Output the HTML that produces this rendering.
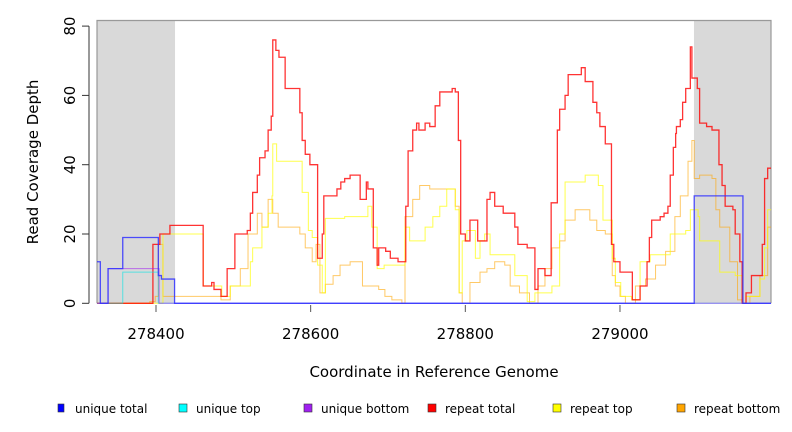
<!DOCTYPE html>
<html><head><meta charset="utf-8"><style>
body{margin:0;background:#fff;}
svg{display:block;font-family:"DejaVu Sans","Liberation Sans",sans-serif;}
</style></head><body>
<svg id="chart" width="792" height="432" viewBox="0 0 792 432">
<rect x="0" y="0" width="792" height="432" fill="#fff"/>
<g id="plot"></g>
<g id="axes"></g>
<text x="38" y="162" transform="rotate(-90 38 162)" text-anchor="middle" font-size="15" fill="#000">Read Coverage Depth</text>
<text x="434" y="377" text-anchor="middle" font-size="15" fill="#000">Coordinate in Reference Genome</text>
<g id="legend"></g>
</svg>
<script>
const xMin = 278323.7, xMax = 279195.3;
const yTicks = [0, 20, 40, 60, 80];
const xTicks = [278400, 278600, 278800, 279000];
const greyRegions = [[278323.7, 278424.6], [279095.7, 279195.3]];

const uniqueTotalPos = [278320, 278328, 278338, 278357, 278403, 278407, 278424, 279096, 279159, 279196];
const uniqueTotalVal = [12, 0, 10, 19, 8, 7, 0, 31, 0, 0];
const uniqueTopPos = [278320, 278357, 278403, 279196];
const uniqueTopVal = [0, 9, 0, 0];
const uniqueBottomPos = [278320, 278338, 278404, 279196];
const uniqueBottomVal = [0, 10, 0, 0];

const repeatTotalPos = [278320,278396,278405,278418,278461,278472,278475,278484,278492,278502,278518,278522,278525,278531,278534,278541,278545,278549,278551,278555,278559,278567,278586,278589,278593,278599,278609,278615,278617,278634,278639,278644,278651,278664,278672,278674,278681,278686,278688,278697,278703,278713,278723,278726,278732,278737,278740,278748,278754,278761,278767,278783,278787,278791,278794,278800,278806,278816,278828,278832,278838,278849,278864,278868,278880,278890,278894,278903,278911,278919,278922,278929,278933,278950,278955,278965,278970,278974,278981,278989,278992,279000,279016,279026,279035,279038,279041,279052,279057,279062,279065,279069,279072,279073,279078,279081,279085,279091,279093,279100,279103,279112,279119,279128,279132,279136,279146,279149,279155,279158,279163,279170,279184,279187,279191];
const repeatTotalVal = [0,17,20,22.5,5,6,4,2,10,20,21,26,32,37,42,44,50,54,76,73,71,62,55,47,43,40,13,20,31,33,35,36,37,30,35,33,16,11,16,15,13,12,28,44,50,52,50,52,51,57,61,62,61,47,20,18,24,18,30,32,28,26,22,17,16,4,10,8,29,50,56,60,66,68,64,58,55,51,46,17,12,9,1,5,12,19,24,25,26,28,37,45,49,51,53,58,62,74,65,62,52,51,50,40,34,28,27,20,12,0,3,8,17,36,39];

const repeatTopPos = [278320,278409,278461,278485,278496,278522,278525,278537,278545,278550,278551,278556,278589,278597,278602,278609,278615,278619,278644,278674,278679,278686,278695,278722,278728,278748,278758,278767,278776,278787,278792,278796,278802,278813,278819,278825,278832,278864,278880,278890,278912,278922,278929,278955,278972,278978,278990,278994,279001,279015,279026,279039,279065,279085,279091,279101,279103,279129,279149,279158,279163,279181,279187,279191];
const repeatTopVal = [0,20,5,2,5,12,16,22,26,31,46,41,32,21,19,11,3,24.5,25,28,22,10,11,22,18,22,25,28,33,27,3,18,21,13,18,20,14,8,0.5,3,5,20,35,37,34,24,13,6,2,1,12,14,20,21,27,25,18,9,8,0,2,7,16,27];

const repeatBottomPos = [278320,278392,278399,278403,278409,278484,278496,278509,278519,278531,278537,278545,278551,278558,278586,278593,278602,278607,278612,278619,278629,278638,278651,278667,278688,278696,278705,278718,278722,278732,278741,278754,278787,278792,278796,278806,278819,278828,278838,278851,278858,278870,278883,278894,278903,278912,278922,278929,278942,278961,278970,278981,278990,278994,279000,279007,279020,279033,279046,279059,279071,279078,279088,279093,279096,279103,279119,279124,279129,279142,279152,279158,279168,279181,279191];
const repeatBottomVal = [0,0.5,2,17,2,1,5,10,20,26,22,30,26,22,20,16,12,17,3,5.5,8,11,12,5,4,2,1,0,25,30,34,33,28,3,0,6,9,10,12,11,5,3,0,5,10,16,18,24,27,24,21,20,8,5,2,0,5,7,11,15,25,31,41,47,36,37,36,27,22,12,1,0,2,8,22];

const L=97, R=771, T=20.5, B=303.3;
const xs = c => L + (c - xMin) / (xMax - xMin) * (R - L);
const ys = v => B - v * 3.465;
const NS = 'http://www.w3.org/2000/svg';
function mk(tag, attrs, parent){const e=document.createElementNS(NS,tag);for(const k in attrs)e.setAttribute(k,attrs[k]);parent.appendChild(e);return e;}
const plot=document.getElementById('plot'), axes=document.getElementById('axes'), legend=document.getElementById('legend');

greyRegions.forEach(g=>{
  const r=mk('rect',{x:xs(g[0]),y:T,width:xs(g[1])-xs(g[0]),height:B-T,fill:'#d9d9d9'},plot);
  
  
});
const frame=mk('path',{d:`M${L},${B} V${T} H${R} V${B}`,fill:'none',stroke:'#999',"stroke-width":1.2},plot);



function stepPath(pos,val){
  const cl=c=>Math.max(xMin,Math.min(xMax,c));
  let d=`M${xs(cl(pos[0]))},${ys(val[0])}`;
  for(let i=1;i<pos.length;i++){d+=` H${xs(cl(pos[i]))} V${ys(val[i])}`;}
  d+=` H${R}`;
  return d;
}
const series=[
  ['repeat-bottom-line',repeatBottomPos,repeatBottomVal,'#ffa500',1,0.6],
  ['repeat-top-line',repeatTopPos,repeatTopVal,'#ffff00',1,0.7],
  ['repeat-total-line',repeatTotalPos,repeatTotalVal,'#ff0000',1.3,0.8],
  ['unique-top-line',uniqueTopPos,uniqueTopVal,'#00e5e5',1,0.6],
  ['unique-bottom-line',uniqueBottomPos,uniqueBottomVal,'#a020f0',1,0.6],
  ['unique-total-line',uniqueTotalPos,uniqueTotalVal,'#3030ff',1.3,0.85]
];
series.forEach(s=>{
  const p=mk('path',{d:stepPath(s[1],s[2]),fill:'none',stroke:s[3],"stroke-width":s[4],"stroke-opacity":s[5]},plot);
  
  
});

const yl=mk('line',{x1:89,x2:89,y1:ys(80),y2:ys(0),stroke:'#333'},axes);


yTicks.forEach(t=>{
  const y=ys(t);
  const tk=mk('line',{x1:82,x2:89,y1:y,y2:y,stroke:'#333'},axes);
  
  
  const tx=mk('text',{x:75,y:y,transform:`rotate(-90 75 ${y})`,"text-anchor":"middle","font-size":15},axes);
  tx.textContent=t;
  
  
});
xTicks.forEach(t=>{
  const x=xs(t);
  const tk=mk('line',{x1:x,x2:x,y1:305,y2:312,stroke:'#555'},axes);
  
  
  const tx=mk('text',{x:x,y:339,"text-anchor":"middle","font-size":15},axes);
  tx.textContent=t;
  
  
});

const legendLabels=['unique total','unique top','unique bottom','repeat total','repeat top','repeat bottom'];
const legendColors=['#0000ff','#00ffff','#a020f0','#ff0000','#ffff00','#ffa500'];
const legendX=[58,179,304,428,553,677];
legendLabels.forEach((lab,i)=>{
  const g=mk('g',{},legend);
  
  
  const w=i===0?6:8;
  mk('rect',{x:legendX[i],y:404,width:w,height:8,fill:legendColors[i],stroke:'#333',"stroke-width":0.6},g);
  const tx=mk('text',{x:legendX[i]+17,y:413,"font-size":12},g);
  tx.textContent=lab;
});
</script>
</body></html>
